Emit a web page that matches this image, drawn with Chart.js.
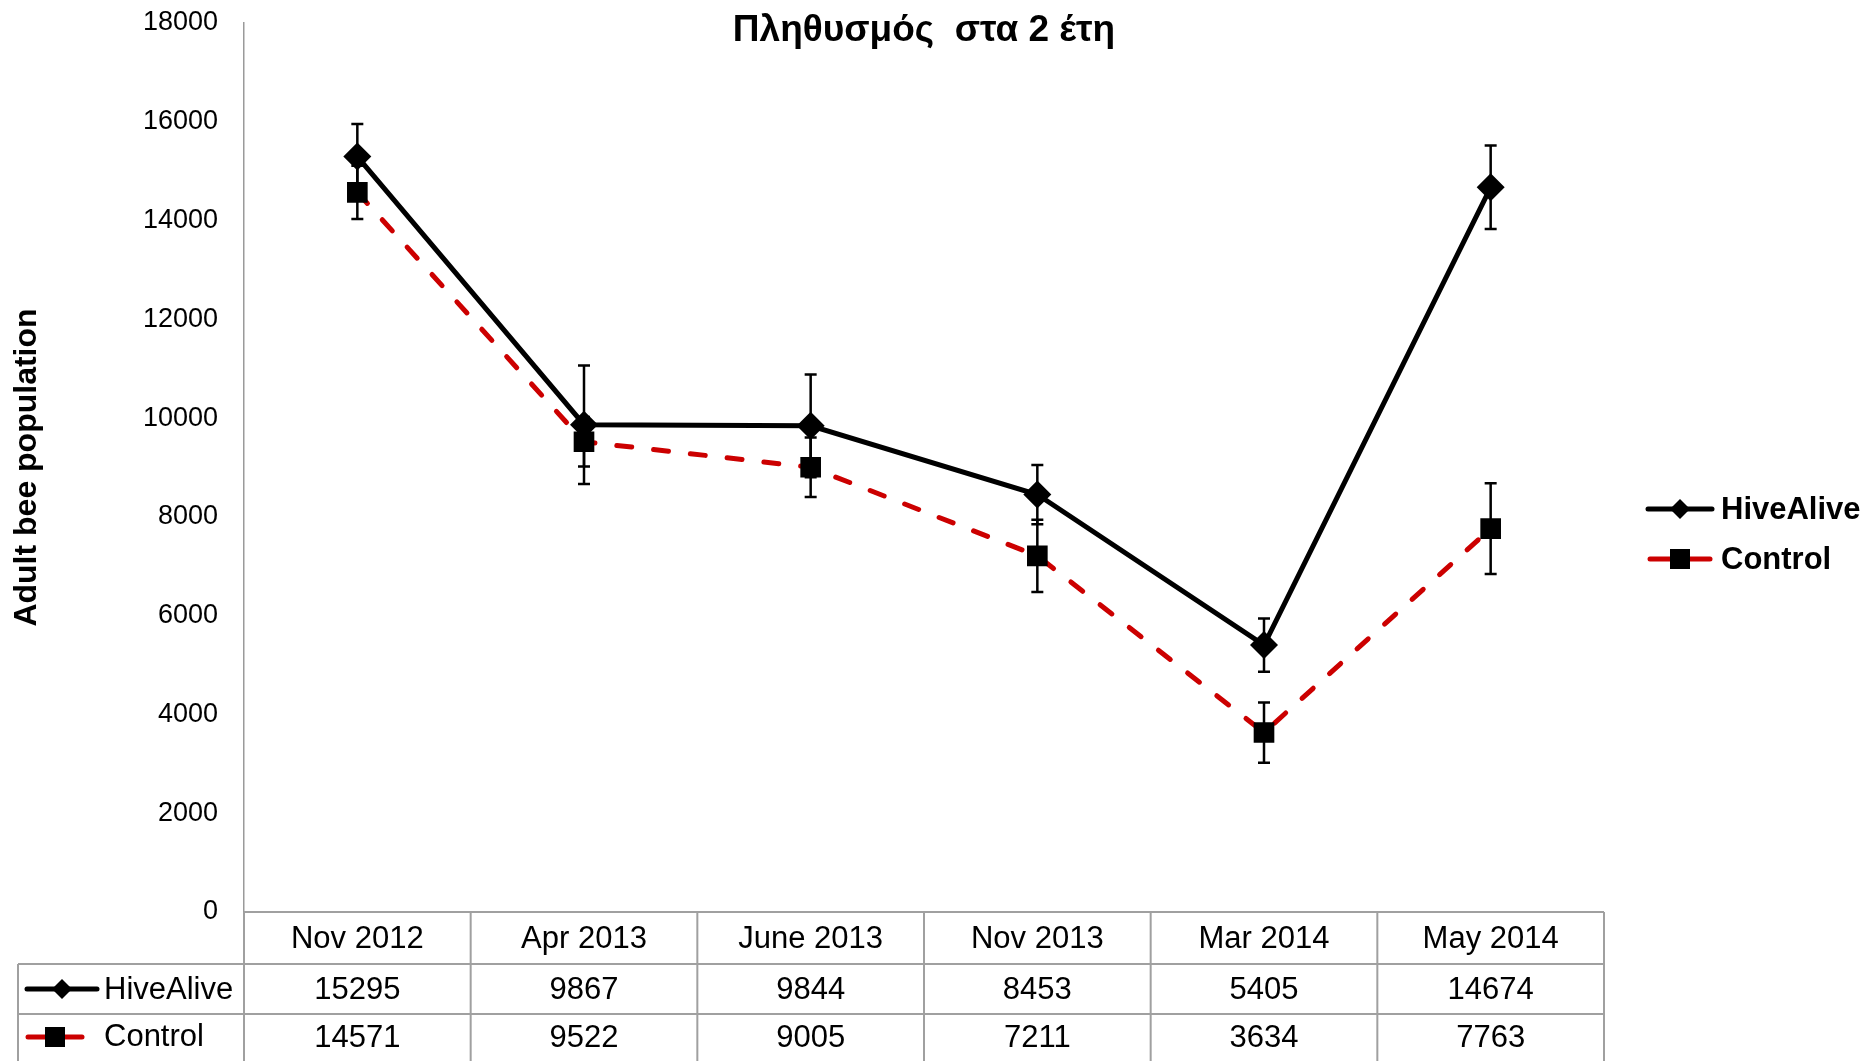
<!DOCTYPE html>
<html>
<head>
<meta charset="utf-8">
<script src="https://cdn.jsdelivr.net/npm/chart.js@4.4.1/dist/chart.umd.min.js"></script>
<style>
  body { margin: 0; background: #fff; }
  canvas { display: block; }
</style>
</head>
<body>
<canvas id="beeChart" width="1870" height="1061"></canvas>
<script>
const months = ['Nov 2012', 'Apr 2013', 'June 2013', 'Nov 2013', 'Mar 2014', 'May 2014'];
const hiveAlive = [15295, 9867, 9844, 8453, 5405, 14674];
const control = [14571, 9522, 9005, 7211, 3634, 7763];
// error bars
const hiveAliveErr = [660, 1200, 1040, 600, 540, 845];
const controlErr = [540, 500, 600, 730, 610, 920];
const yTicks = { min: 0, max: 18000, step: 2000 };

const FONT = "'Liberation Sans', Arial, sans-serif";
const RED = '#cc0000';

function diamond(ctx, x, y, r) {
    ctx.beginPath();
    ctx.moveTo(x - r, y);
    ctx.lineTo(x, y - r);
    ctx.lineTo(x + r, y);
    ctx.lineTo(x, y + r);
    ctx.closePath();
    ctx.fillStyle = '#000';
    ctx.fill();
}

function square(ctx, x, y, s) {
    ctx.fillStyle = '#000';
    ctx.fillRect(x - s / 2, y - s / 2, s, s);
}

function hiveSample(ctx, x1, x2, y) {
    ctx.save();
    ctx.strokeStyle = '#000';
    ctx.lineWidth = 5;
    ctx.lineCap = 'round';
    ctx.beginPath();
    ctx.moveTo(x1, y);
    ctx.lineTo(x2, y);
    ctx.stroke();
    diamond(ctx, (x1 + x2) / 2, y, 10);
    ctx.restore();
}

function controlSample(ctx, x1, x2, y) {
    ctx.save();
    ctx.strokeStyle = RED;
    ctx.lineWidth = 5;
    ctx.lineCap = 'round';
    ctx.beginPath();
    ctx.moveTo(x1, y);
    ctx.lineTo(x2, y);
    ctx.stroke();
    square(ctx, (x1 + x2) / 2, y, 20);
    ctx.restore();
}

const extras = {
    id: 'extras',
    beforeDatasetsDraw(chart) {
        const ctx = chart.ctx;
        const xs = chart.scales.x, ys = chart.scales.y;
        ctx.save();
        ctx.strokeStyle = '#000';
        ctx.lineWidth = 2.5;
        const sets = [[hiveAlive, hiveAliveErr], [control, controlErr]];
        sets.forEach(([vals, errs]) => {
            vals.forEach((v, i) => {
                const px = xs.getPixelForValue(i);
                const top = ys.getPixelForValue(v + errs[i]);
                const bot = ys.getPixelForValue(v - errs[i]);
                ctx.beginPath();
                ctx.moveTo(px, top); ctx.lineTo(px, bot);
                ctx.moveTo(px - 6, top); ctx.lineTo(px + 6, top);
                ctx.moveTo(px - 6, bot); ctx.lineTo(px + 6, bot);
                ctx.stroke();
            });
        });
        ctx.restore();
    },
    afterDraw(chart) {
        const ctx = chart.ctx;
        const area = chart.chartArea;
        const xs = chart.scales.x;

        // title
        ctx.save();
        ctx.fillStyle = '#000';
        ctx.font = 'bold 37px ' + FONT;
        ctx.textAlign = 'center';
        ctx.textBaseline = 'middle';
        ctx.fillText('Πληθυσμός  στα 2 έτη', (area.left + area.right) / 2, 31);

        // legend on the right
        ctx.font = 'bold 31px ' + FONT;
        ctx.textAlign = 'left';
        hiveSample(ctx, 1648, 1712, 509);
        ctx.fillStyle = '#000';
        ctx.fillText('HiveAlive', 1721, 510);
        controlSample(ctx, 1650, 1710, 559);
        ctx.fillStyle = '#000';
        ctx.fillText('Control', 1721, 560);

        // data table
        const colW = (area.right - area.left) / months.length;
        const labelLeft = 18;
        const rows = [area.bottom, area.bottom + 52, area.bottom + 102, area.bottom + 152];
        ctx.strokeStyle = '#a0a0a0';
        ctx.lineWidth = 2;
        ctx.beginPath();
        ctx.moveTo(area.left, rows[0]); ctx.lineTo(area.right, rows[0]);
        ctx.moveTo(labelLeft, rows[1]); ctx.lineTo(area.right, rows[1]);
        ctx.moveTo(labelLeft, rows[2]); ctx.lineTo(area.right, rows[2]);
        ctx.moveTo(labelLeft, rows[3]); ctx.lineTo(area.right, rows[3]);
        ctx.moveTo(labelLeft, rows[1]); ctx.lineTo(labelLeft, rows[3]);
        for (let i = 0; i <= months.length; i++) {
            const gx = area.left + i * colW;
            ctx.moveTo(gx, rows[0]); ctx.lineTo(gx, rows[3]);
        }
        ctx.stroke();

        ctx.fillStyle = '#000';
        ctx.font = '31px ' + FONT;
        ctx.textAlign = 'center';
        months.forEach((m, i) => {
            const cx = xs.getPixelForValue(i);
            ctx.fillText(m, cx, (rows[0] + rows[1]) / 2 + 1);
            ctx.fillText(String(hiveAlive[i]), cx, (rows[1] + rows[2]) / 2 + 1);
            ctx.fillText(String(control[i]), cx, (rows[2] + rows[3]) / 2 - 1);
        });

        const r1 = (rows[1] + rows[2]) / 2, r2 = (rows[2] + rows[3]) / 2 - 2;
        hiveSample(ctx, 27, 97, r1);
        controlSample(ctx, 28, 82, r2);
        ctx.fillStyle = '#000';
        ctx.textAlign = 'left';
        ctx.fillText('HiveAlive', 104, r1 + 1);
        ctx.fillText('Control', 104, r2);
        ctx.restore();
    }
};

const ctx = document.getElementById('beeChart').getContext('2d');
const beeChart = new Chart(ctx, {
    type: 'line',
    data: {
        labels: months,
        datasets: [{
            label: 'HiveAlive',
            data: hiveAlive,
            borderColor: '#000',
            borderWidth: 5,
            pointStyle: 'rectRot',
            pointRadius: 14,
            pointBackgroundColor: '#000',
            pointBorderWidth: 0,
            tension: 0
        }, {
            label: 'Control',
            data: control,
            borderColor: RED,
            borderWidth: 5,
            borderDash: [15, 22],
            borderCapStyle: 'round',
            pointStyle: 'rect',
            pointRadius: 14.6,
            pointBackgroundColor: '#000',
            pointBorderWidth: 0,
            tension: 0
        }]
    },
    options: {
        responsive: false,
        animation: false,
        layout: { padding: { left: 0, top: 23, right: 266, bottom: 149 } },
        plugins: {
            legend: { display: false },
            tooltip: { enabled: false }
        },
        scales: {
            x: {
                type: 'category',
                offset: true,
                display: false
            },
            y: {
                min: yTicks.min,
                max: yTicks.max,
                ticks: {
                    stepSize: yTicks.step,
                    color: '#000',
                    padding: 26,
                    font: { size: 27, family: FONT },
                    callback: (v) => String(v)
                },
                grid: { display: false, drawTicks: false },
                border: { display: true, color: '#9a9a9a', width: 1.5 },
                title: {
                    display: true,
                    text: 'Adult bee population',
                    color: '#000',
                    font: { size: 32, weight: 'bold', family: FONT },
                    padding: { top: 8, bottom: 0 }
                },
                afterFit(scale) {
                    scale.width = 244;
                    // the tick padding should not push the plot area down
                    scale.paddingTop = 0;
                    scale.paddingBottom = 0;
                }
            }
        }
    },
    plugins: [extras]
});
</script>
</body>
</html>
